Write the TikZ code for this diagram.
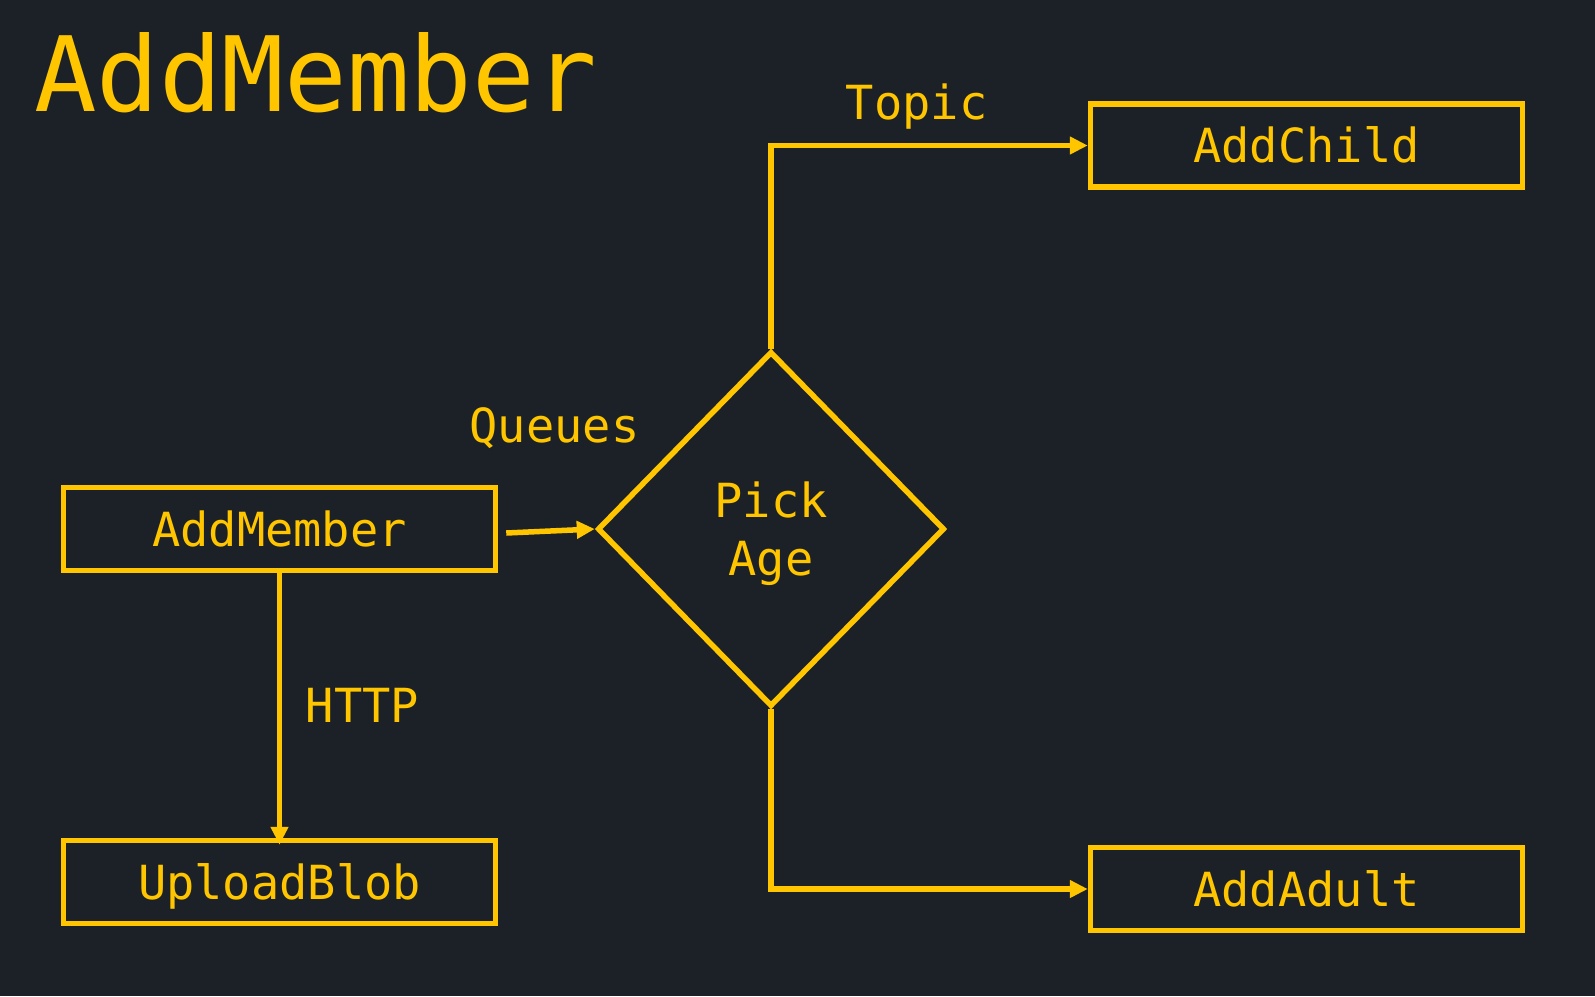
\documentclass[tikz,border=0pt]{standalone}
\usepackage{fontspec}
\setmainfont{DejaVu Sans Mono}
\usepackage{tikz}
\usetikzlibrary{positioning, arrows.meta, shapes.geometric}
\definecolor{bg}{HTML}{1C2128}
\definecolor{amber}{HTML}{FFC600}

\begin{document}
\begin{tikzpicture}[
    >={Triangle[length=18pt, width=17pt]},
    x=1pt, y=1pt,
    on grid,
    line width=5.5pt,
    every node/.style={text=amber, font=\fontsize{47}{58}\selectfont},
    txt/.style={text height=34pt, text depth=0pt},
    func/.style={txt, draw=amber, minimum width=432pt, minimum height=83pt},
    choice/.style={diamond, draw=amber, minimum width=347pt, minimum height=355pt, inner sep=0pt, text depth=0pt, align=center},
    link/.style={draw=amber, ->}
]

% 背景
\fill[bg] (0,0) rectangle (1595,-996);

% 标题
\node[anchor=base west, font=\fontsize{104}{125}\selectfont] (title) at (28,-111) {AddMember};

% 节点
\node[choice] (pick) at (771,-529) {Pick\\Age};
\node[func, left=491.5pt of pick] (member) {AddMember};
\node[func, below=353pt of member] (blob) {UploadBlob};
\node[func, above right=383.5pt and 535.5pt of pick] (child) {AddChild};
\node[func, below right=360pt and 535.5pt of pick] (adult) {AddAdult};

% 连线
\draw[link] ([xshift=8pt, yshift=-4pt]member.east) -- node[txt, xshift=4pt, yshift=106pt] (queues) {Queues} (pick.west);
\draw[link, shorten >=-7pt] (member.south) -- node[txt, xshift=83pt] (http) {HTTP} (blob.north);
\draw[link] (pick.north) |- node[txt, pos=0.73, yshift=43.5pt] (topic) {Topic} (child.west);
\draw[link] (pick.south) |- (adult.west);

\end{tikzpicture}
\end{document}
